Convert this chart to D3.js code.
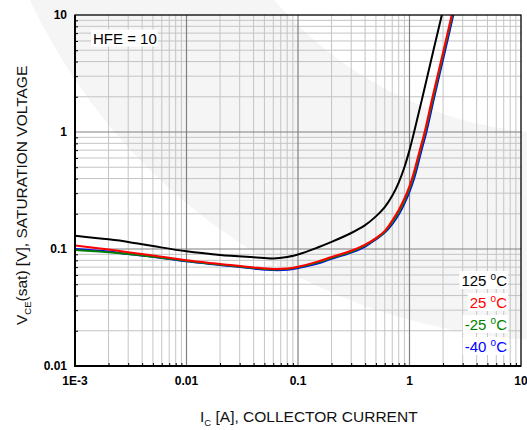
<!DOCTYPE html>
<html>
<head>
<meta charset="utf-8">
<script src="https://cdn.jsdelivr.net/npm/d3@7"></script>
<style>
  html, body { margin: 0; padding: 0; background: #fff; }
  svg { display: block; }
  text { font-family: "Liberation Sans", Arial, sans-serif; }
</style>
</head>
<body>
<svg id="chart" width="527" height="430"></svg>
<script>
// ---------------- data ----------------
const xTickValues = [0.001, 0.01, 0.1, 1, 10];
const xTickLabels = ["1E-3", "0.01", "0.1", "1", "10"];
const yTickValues = [0.01, 0.1, 1, 10];
const yTickLabels = ["0.01", "0.1", "1", "10"];

// 125 °C
const ic125  = [0.001, 0.002, 0.003, 0.005, 0.01, 0.02, 0.04, 0.06, 0.08, 0.1, 0.15, 0.2, 0.3, 0.4, 0.5, 0.6, 0.7, 0.8, 0.9, 1.0, 1.1, 1.31, 1.64, 1.95];
const vce125 = [0.130, 0.121, 0.115, 0.106, 0.0955, 0.089, 0.085, 0.083, 0.0855, 0.0898, 0.103, 0.115, 0.137, 0.160, 0.19, 0.228, 0.285, 0.37, 0.50, 0.70, 1.0, 2.0, 5.0, 10.0];
// 25 °C
const ic25   = [0.001, 0.002, 0.003, 0.005, 0.01, 0.02, 0.04, 0.06, 0.08, 0.1, 0.15, 0.2, 0.3, 0.4, 0.5, 0.6, 0.7, 0.8, 0.9, 1.0, 1.1, 1.24, 1.36, 1.61, 2.02, 2.39];
const vce25  = [0.107, 0.099, 0.094, 0.088, 0.080, 0.0745, 0.0695, 0.0675, 0.068, 0.0705, 0.078, 0.0855, 0.0965, 0.109, 0.124, 0.143, 0.175, 0.215, 0.27, 0.345, 0.46, 0.706, 0.98, 2.0, 5.0, 10.0];
// -25 °C
const icM25  = [0.001, 0.002, 0.003, 0.005, 0.01, 0.02, 0.04, 0.06, 0.08, 0.1, 0.15, 0.2, 0.3, 0.4, 0.5, 0.6, 0.7, 0.8, 0.9, 1.0, 1.1, 1.26, 1.38, 1.64, 2.05, 2.43];
const vceM25 = [0.098, 0.094, 0.0905, 0.086, 0.079, 0.0735, 0.0688, 0.0668, 0.0673, 0.0697, 0.0765, 0.0838, 0.0948, 0.107, 0.1225, 0.1405, 0.169, 0.205, 0.257, 0.327, 0.43, 0.706, 0.98, 2.0, 5.0, 10.0];
// -40 °C
const icM40  = [0.001, 0.002, 0.003, 0.005, 0.01, 0.02, 0.04, 0.06, 0.08, 0.1, 0.15, 0.2, 0.3, 0.4, 0.5, 0.6, 0.7, 0.8, 0.9, 1.0, 1.1, 1.285, 1.41, 1.67, 2.09, 2.47];
const vceM40 = [0.100, 0.095, 0.0905, 0.086, 0.0785, 0.073, 0.068, 0.066, 0.0665, 0.0688, 0.075, 0.0825, 0.093, 0.105, 0.121, 0.138, 0.163, 0.197, 0.245, 0.31, 0.40, 0.706, 0.98, 2.0, 5.0, 10.0];

const seriesNames  = ["125", "25", "-25", "-40"];
const seriesColors = ["#000000", "#ff0000", "#008000", "#0000ff"];

// ---------------- layout ----------------
const pLeft = 75, pRight = 521, pTop = 15, pBottom = 366;
const svg = d3.select("#chart");

const x = d3.scaleLog().domain([0.001, 10]).range([pLeft, pRight]);
const y = d3.scaleLog().domain([0.01, 10]).range([pBottom, pTop]);

// faint background watermark (decorative ring)
const ring = d3.arc().innerRadius(385).outerRadius(592).startAngle(0).endAngle(2 * Math.PI);
svg.append("path").attr("d", ring()).attr("transform", "translate(566,-251)").attr("fill", "#f5f5f5");

// ---------------- grid ----------------
function minorValues(lo, hi) {
  const out = [];
  for (let e = Math.round(Math.log10(lo)); e < Math.round(Math.log10(hi)); e++) {
    for (let m = 2; m <= 9; m++) out.push(m * Math.pow(10, e));
  }
  return out;
}
const xMinor = minorValues(0.001, 10);
const yMinor = minorValues(0.01, 10);

const grid = svg.append("g");
grid.selectAll(".xminor").data(xMinor).join("line")
  .attr("x1", d => x(d)).attr("x2", d => x(d)).attr("y1", pTop).attr("y2", pBottom)
  .attr("stroke", "#c4c4c4").attr("stroke-width", 1);
grid.selectAll(".yminor").data(yMinor).join("line")
  .attr("y1", d => y(d)).attr("y2", d => y(d)).attr("x1", pLeft).attr("x2", pRight)
  .attr("stroke", "#c4c4c4").attr("stroke-width", 1);
grid.selectAll(".xmajor").data(xTickValues.slice(1, -1)).join("line")
  .attr("x1", d => x(d)).attr("x2", d => x(d)).attr("y1", pTop).attr("y2", pBottom)
  .attr("stroke", "#808080").attr("stroke-width", 1.2);
grid.selectAll(".ymajor").data(yTickValues.slice(1, -1)).join("line")
  .attr("y1", d => y(d)).attr("y2", d => y(d)).attr("x1", pLeft).attr("x2", pRight)
  .attr("stroke", "#808080").attr("stroke-width", 1.2);

// small inward ticks
svg.append("g").attr("transform", `translate(${pLeft},0)`)
  .call(d3.axisLeft(y).tickValues(yMinor).tickSize(-3).tickFormat(""))
  .call(g => g.select(".domain").remove())
  .call(g => g.selectAll("line").attr("stroke", "#000"));
svg.append("g").attr("transform", `translate(0,${pBottom})`)
  .call(d3.axisBottom(x).tickValues(xMinor).tickSize(-3).tickFormat(""))
  .call(g => g.select(".domain").remove())
  .call(g => g.selectAll("line").attr("stroke", "#000"));

// ---------------- curves ----------------
svg.append("clipPath").attr("id", "plotclip").append("rect")
  .attr("x", pLeft).attr("y", pTop).attr("width", pRight - pLeft).attr("height", pBottom - pTop);

const line = d3.line().x(d => x(d[0])).y(d => y(d[1])).curve(d3.curveCatmullRom.alpha(0.5));
const series = [
  { name: seriesNames[0], color: seriesColors[0], pts: d3.zip(ic125, vce125) },
  { name: seriesNames[3], color: seriesColors[3], pts: d3.zip(icM40, vceM40) },
  { name: seriesNames[2], color: seriesColors[2], pts: d3.zip(icM25, vceM25) },
  { name: seriesNames[1], color: seriesColors[1], pts: d3.zip(ic25, vce25) }
];
svg.append("g").attr("clip-path", "url(#plotclip)")
  .selectAll("path").data(series).join("path")
  .attr("d", d => line(d.pts))
  .attr("fill", "none").attr("stroke", d => d.color).attr("stroke-width", 2)
  .attr("stroke-linejoin", "round");

// ---------------- frame ----------------
svg.append("rect").attr("x", pLeft).attr("y", pTop).attr("width", pRight - pLeft).attr("height", pBottom - pTop)
  .attr("fill", "none").attr("stroke", "#000").attr("stroke-width", 1.3);
svg.append("line").attr("x1", pLeft).attr("x2", pLeft).attr("y1", pTop).attr("y2", pBottom + 1)
  .attr("stroke", "#000").attr("stroke-width", 2);
svg.append("line").attr("x1", pLeft - 1).attr("x2", pRight).attr("y1", pBottom).attr("y2", pBottom)
  .attr("stroke", "#000").attr("stroke-width", 2);

// ---------------- tick labels ----------------
svg.append("g").selectAll("text").data(xTickValues).join("text")
  .attr("x", d => x(d)).attr("y", 385)
  .attr("text-anchor", "middle").attr("font-size", 12).attr("font-weight", "bold")
  .text((d, i) => xTickLabels[i]);
svg.append("g").selectAll("text").data(yTickValues).join("text")
  .attr("x", 67).attr("y", d => y(d)).attr("dy", "0.36em")
  .attr("text-anchor", "end").attr("font-size", 12).attr("font-weight", "bold")
  .text((d, i) => yTickLabels[i]);

// ---------------- axis titles ----------------
const xt = svg.append("text").attr("x", 200).attr("y", 422).attr("font-size", 15.5).attr("fill", "#111");
xt.append("tspan").text("I");
xt.append("tspan").attr("font-size", 9.5).attr("dy", 4).text("C");
xt.append("tspan").attr("dy", -4).text(" [A], COLLECTOR CURRENT");

const yt = svg.append("text").attr("transform", "translate(27,325) rotate(-90)")
  .attr("font-size", 15.5).attr("fill", "#111");
yt.append("tspan").text("V");
yt.append("tspan").attr("font-size", 9.5).attr("dy", 4).text("CE");
yt.append("tspan").attr("dy", -4).text("(sat) [V], SATURATION VOLTAGE");

// ---------------- annotations ----------------
function labelWithBg(g, build) {
  const t = build(g);
  const bb = t.node().getBBox();
  g.insert("rect", "text").attr("x", bb.x - 2).attr("y", bb.y).attr("width", bb.width + 3).attr("height", bb.height)
    .attr("fill", "#fff");
}
labelWithBg(svg.append("g"), g => g.append("text").attr("x", 93).attr("y", 43.5)
  .attr("font-size", 15).attr("fill", "#000").text("HFE = 10"));

const legendY = [286, 308, 330, 352];
seriesNames.forEach((n, i) => {
  labelWithBg(svg.append("g"), g => {
    const t = g.append("text").attr("x", 507).attr("y", legendY[i]).attr("text-anchor", "end")
      .attr("font-size", 15).attr("fill", seriesColors[i]);
    t.append("tspan").text(n + " ");
    t.append("tspan").attr("font-size", 10).attr("dy", -6).text("o");
    t.append("tspan").attr("dy", 6).text("C");
    return t;
  });
});
</script>
</body>
</html>
